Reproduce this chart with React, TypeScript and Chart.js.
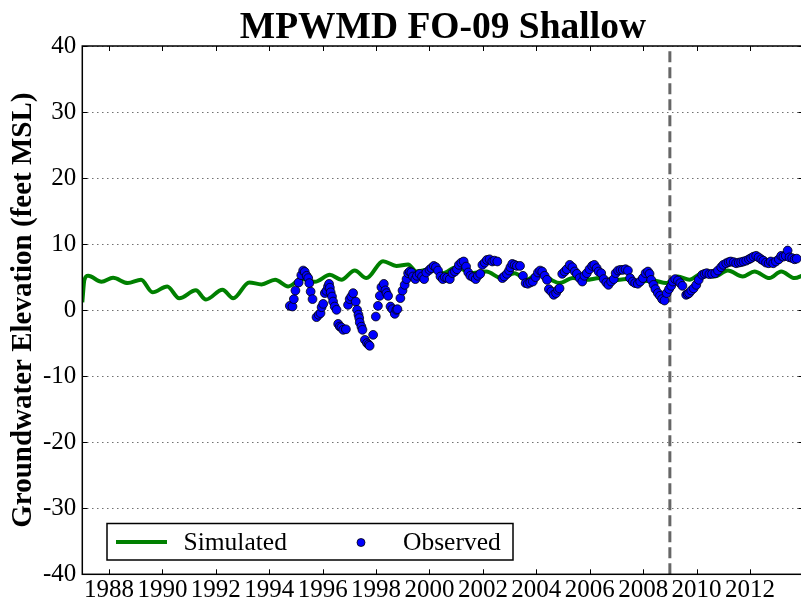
import React, { useEffect, useRef } from "react";
import { Chart, registerables } from "chart.js";

Chart.register(...registerables);

const TITLE = "MPWMD FO-09 Shallow";
const Y_LABEL = "Groundwater Elevation (feet MSL)";
const LEGEND_LABELS = ["Simulated", "Observed"];

const X_MIN = 1987;
const X_MAX = 2014;
const Y_MIN = -40;
const Y_MAX = 40;
const X_TICK_YEARS = [1988, 1990, 1992, 1994, 1996, 1998, 2000, 2002, 2004, 2006, 2008, 2010, 2012];
const Y_TICKS = [-40, -30, -20, -10, 0, 10, 20, 30, 40];

const calibrationYears = [2009, 2009];
const calibrationValues = [-40, 40];

const simYears = [
  1987.0, 1987.08, 1987.22, 1987.72, 1988.15, 1988.7, 1989.2, 1989.63, 1990.18, 1990.63,
  1991.25, 1991.63, 1992.25, 1992.65, 1993.25, 1993.71, 1994.22, 1994.71, 1995.21, 1995.71,
  1996.27, 1996.7, 1997.2, 1997.64, 1998.26, 1998.76, 1999.2, 1999.51, 2000.0, 2000.5,
  2001.0, 2001.6, 2002.13, 2002.69, 2003.19, 2003.63, 2004.12, 2004.6, 2004.87, 2005.37,
  2005.87, 2006.37, 2006.87, 2007.37, 2007.86, 2008.36, 2008.86, 2009.3, 2009.73, 2010.23,
  2010.67, 2011.17, 2011.73, 2012.17, 2012.73, 2013.17, 2013.67, 2014.0,
];
const simValues = [
  1.2, 4.6, 5.2, 4.3, 4.9, 4.1, 4.6, 2.7, 3.6, 1.8,
  3.0, 1.6, 3.1, 1.8, 4.2, 3.9, 4.6, 3.6, 4.7, 4.3,
  5.35, 4.6, 6.0, 4.85, 7.4, 6.7, 6.9, 5.85, 6.2, 5.6,
  6.5, 5.6, 5.85, 4.85, 5.6, 4.6, 5.7, 4.5, 4.1, 4.85,
  4.6, 4.85, 4.5, 4.7, 4.3, 4.5, 4.1, 5.1, 4.6, 5.6,
  5.1, 6.0, 5.1, 5.85, 4.85, 5.85, 4.85, 5.3,
];

const obsYears = [
  1994.77, 1994.87, 1994.92, 1994.98, 1995.1, 1995.2, 1995.27, 1995.33, 1995.4, 1995.46,
  1995.5, 1995.55, 1995.62, 1995.77, 1995.85, 1995.92, 1995.96, 1996.02, 1996.08, 1996.14,
  1996.2, 1996.24, 1996.27, 1996.3, 1996.35, 1996.39, 1996.45, 1996.52, 1996.58, 1996.64,
  1996.7, 1996.77, 1996.87, 1996.95, 1997.01, 1997.07, 1997.14, 1997.24, 1997.29, 1997.34,
  1997.37, 1997.39, 1997.45, 1997.49, 1997.58, 1997.66, 1997.72, 1997.76, 1997.89, 1997.99,
  1998.07, 1998.14, 1998.2, 1998.29, 1998.35, 1998.39, 1998.45, 1998.54, 1998.61, 1998.7,
  1998.76, 1998.8, 1998.91, 1998.99, 1999.07, 1999.14, 1999.2, 1999.26, 1999.32, 1999.38,
  1999.47, 1999.53, 1999.63, 1999.72, 1999.8, 1999.88, 2000.0, 2000.07, 2000.16, 2000.24,
  2000.32, 2000.41, 2000.5, 2000.57, 2000.66, 2000.76, 2000.86, 2000.95, 2001.03, 2001.1,
  2001.19, 2001.28, 2001.37, 2001.45, 2001.53, 2001.63, 2001.73, 2001.81, 2001.9, 2001.98,
  2002.07, 2002.15, 2002.25, 2002.35, 2002.43, 2002.54, 2002.73, 2002.8, 2002.9, 2002.98,
  2003.03, 2003.1, 2003.19, 2003.27, 2003.39, 2003.5, 2003.6, 2003.68, 2003.77, 2003.87,
  2003.97, 2004.06, 2004.14, 2004.22, 2004.31, 2004.4, 2004.47, 2004.56, 2004.65, 2004.74,
  2004.81, 2004.87, 2004.97, 2005.06, 2005.14, 2005.25, 2005.35, 2005.44, 2005.52, 2005.62,
  2005.72, 2005.8, 2005.89, 2005.99, 2006.09, 2006.17, 2006.26, 2006.33, 2006.43, 2006.52,
  2006.62, 2006.7, 2006.8, 2006.9, 2006.97, 2007.06, 2007.15, 2007.24, 2007.34, 2007.43,
  2007.51, 2007.61, 2007.7, 2007.8, 2007.89, 2007.99, 2008.09, 2008.18, 2008.24, 2008.3,
  2008.39, 2008.46, 2008.55, 2008.63, 2008.71, 2008.8, 2008.88, 2008.97, 2009.05, 2009.11,
  2009.2, 2009.3, 2009.39, 2009.47, 2009.61, 2009.67, 2009.72, 2009.8, 2009.89, 2009.99,
  2010.08, 2010.21, 2010.3, 2010.38, 2010.48, 2010.58, 2010.7, 2010.8, 2010.92, 2011.0,
  2011.11, 2011.2, 2011.28, 2011.39, 2011.48, 2011.58, 2011.67, 2011.76, 2011.86, 2011.96,
  2012.04, 2012.13, 2012.23, 2012.32, 2012.42, 2012.5, 2012.6, 2012.7, 2012.78, 2012.87,
  2012.97, 2013.08, 2013.17, 2013.25, 2013.34, 2013.41, 2013.48, 2013.58, 2013.67, 2013.75,
];
const obsValues = [
  0.65, 0.55, 1.67, 2.97, 4.18, 5.3, 6.0, 5.8, 5.2, 4.85,
  4.09, 2.82, 1.67, -1.06, -0.7, -0.45, 0.45, 0.95, 2.58, 2.92,
  3.58, 3.98, 3.4, 2.7, 2.06, 1.3, 0.55, 0.05, -2.08, -2.48,
  -2.6, -2.98, -2.9, 0.8, 1.67, 2.06, 2.58, 1.3, 0.05, -0.7,
  -1.2, -1.87, -2.5, -2.98, -4.5, -5.0, -5.2, -5.4, -3.74, -0.97,
  0.65, 2.17, 3.48, 3.98, 3.0, 2.58, 2.17, 0.55, 0.15, -0.56,
  0.05, 0.15, 1.82, 2.97, 3.83, 4.7, 5.6, 5.85, 5.7, 5.1,
  4.7, 5.2, 5.5, 5.1, 4.7, 5.7, 6.1, 6.36, 6.7, 6.5,
  6.0, 5.1, 4.7, 5.0, 4.9, 4.7, 5.6, 5.85, 6.2, 6.86,
  7.2, 7.37, 6.6, 5.7, 5.2, 5.0, 4.7, 5.2, 5.5, 6.86,
  7.2, 7.6, 7.7, 7.37, 7.5, 7.37, 4.85, 5.1, 5.5, 6.0,
  6.5, 7.0, 6.86, 6.7, 6.7, 5.2, 4.09, 4.0, 4.18, 4.33,
  5.0, 5.7, 6.0, 5.85, 5.2, 4.59, 3.18, 2.82, 2.32, 2.58,
  3.08, 3.3, 5.5, 5.85, 6.2, 6.86, 6.5, 5.85, 5.5, 4.85,
  4.33, 5.2, 5.6, 6.2, 6.7, 6.86, 6.36, 5.85, 5.6, 4.7,
  4.18, 3.83, 4.33, 4.7, 5.6, 6.0, 6.1, 6.1, 6.2, 6.0,
  4.85, 4.33, 4.09, 4.0, 4.33, 4.85, 5.6, 5.85, 5.5, 4.59,
  3.83, 3.18, 2.58, 2.17, 1.67, 1.46, 2.58, 3.2, 3.68, 4.33,
  4.7, 4.48, 4.09, 3.68, 2.32, 2.45, 2.58, 2.97, 3.3, 3.83,
  4.59, 5.35, 5.5, 5.6, 5.45, 5.5, 5.6, 6.0, 6.5, 6.86,
  7.1, 7.27, 7.37, 7.27, 7.1, 7.2, 7.27, 7.37, 7.5, 7.7,
  7.88, 8.1, 8.23, 8.0, 7.7, 7.5, 7.2, 7.1, 7.37, 7.1,
  7.37, 7.7, 8.23, 8.1, 8.23, 9.03, 8.0, 7.88, 7.7, 7.8,
];

const FONT = '"Liberation Serif", "Times New Roman", serif';
const SIM_COLOR = "#008000";
const OBS_COLOR = "#0000ff";

const CANVAS_W = 830;
const CANVAS_H = 604;
const AREA_LEFT = 82.3;
const AREA_TOP = 46;
const AREA_RIGHT = 803.4;
const AREA_BOTTOM = 574.3;

const framePlugin = {
  id: "frameTicks",
  afterDatasetsDraw(chart: any) {
    const { ctx, chartArea: a, scales } = chart;
    ctx.save();
    ctx.strokeStyle = "#000";
    ctx.lineWidth = 1;
    ctx.beginPath();
    X_TICK_YEARS.forEach((v) => {
      const px = Math.round(scales.x.getPixelForValue(v)) + 0.5;
      ctx.moveTo(px, a.bottom);
      ctx.lineTo(px, a.bottom - 5);
      ctx.moveTo(px, a.top);
      ctx.lineTo(px, a.top + 5);
    });
    Y_TICKS.forEach((v) => {
      const py = Math.round(scales.y.getPixelForValue(v)) + 0.5;
      ctx.moveTo(a.left, py);
      ctx.lineTo(a.left + 5, py);
      ctx.moveTo(a.right, py);
      ctx.lineTo(a.right - 5, py);
    });
    ctx.stroke();
    ctx.lineWidth = 1.5;
    ctx.strokeRect(a.left, a.top, a.right - a.left, a.bottom - a.top);
    ctx.restore();
  },
};

const titleLegendPlugin = {
  id: "titleLegend",
  afterDraw(chart: any) {
    const { ctx, chartArea: a } = chart;
    ctx.save();
    // title
    ctx.fillStyle = "#000";
    ctx.font = `bold 37.5px ${FONT}`;
    ctx.textAlign = "center";
    ctx.textBaseline = "alphabetic";
    ctx.fillText(TITLE, (a.left + a.right) / 2, 37.5);

    // legend box
    const bx = a.left + 24.7;
    const by = a.bottom - 50.8;
    const bw = 406;
    const bh = 36.5;
    ctx.fillStyle = "#fff";
    ctx.fillRect(bx, by, bw, bh);
    ctx.strokeStyle = "#000";
    ctx.lineWidth = 1.5;
    ctx.strokeRect(bx, by, bw, bh);
    const cy = by + 18.5;
    ctx.strokeStyle = SIM_COLOR;
    ctx.lineWidth = 4;
    ctx.beginPath();
    ctx.moveTo(bx + 9, cy);
    ctx.lineTo(bx + 60, cy);
    ctx.stroke();
    ctx.fillStyle = "#000";
    ctx.font = `25.5px ${FONT}`;
    ctx.textAlign = "left";
    ctx.textBaseline = "alphabetic";
    ctx.fillText(LEGEND_LABELS[0], bx + 76.5, by + 26.5);
    ctx.beginPath();
    ctx.arc(bx + 254, cy + 0.5, 4, 0, Math.PI * 2);
    ctx.fillStyle = OBS_COLOR;
    ctx.fill();
    ctx.lineWidth = 0.8;
    ctx.strokeStyle = "#000";
    ctx.stroke();
    ctx.fillStyle = "#000";
    ctx.fillText(LEGEND_LABELS[1], bx + 296, by + 26.5);
    ctx.restore();
  },
};

export default function App() {
  const canvasRef = useRef<HTMLCanvasElement | null>(null);

  useEffect(() => {
    if (!canvasRef.current) return;
    const chart = new Chart(canvasRef.current, {
      type: "scatter",
      data: {
        datasets: [
          {
            label: LEGEND_LABELS[1],
            data: obsYears.map((x, i) => ({ x, y: obsValues[i] })),
            showLine: false,
            pointRadius: 4.4,
            pointHoverRadius: 4.4,
            pointBackgroundColor: OBS_COLOR,
            pointBorderColor: "#000",
            pointBorderWidth: 0.8,
            order: 0,
          },
          {
            label: "Calibration",
            data: calibrationYears.map((x, i) => ({ x, y: calibrationValues[i] })),
            showLine: true,
            borderColor: "#666666",
            borderWidth: 3,
            borderDash: [11, 5],
            pointRadius: 0,
            order: 1,
          },
          {
            label: LEGEND_LABELS[0],
            data: simYears.map((x, i) => ({ x, y: simValues[i] })),
            showLine: true,
            borderColor: SIM_COLOR,
            borderWidth: 4,
            pointRadius: 0,
            cubicInterpolationMode: "monotone",
            order: 2,
          },
        ],
      },
      options: {
        animation: false,
        responsive: false,
        devicePixelRatio: 1,
        layout: {
          padding: { left: 0, top: AREA_TOP, right: CANVAS_W - AREA_RIGHT, bottom: 0 },
        },
        plugins: {
          legend: { display: false },
          title: { display: false },
          tooltip: { enabled: false },
        },
        scales: {
          x: {
            type: "linear",
            min: X_MIN,
            max: X_MAX,
            grid: { display: false, drawTicks: false },
            border: { display: false },
            afterBuildTicks: (scale: any) => {
              scale.ticks = X_TICK_YEARS.map((v) => ({ value: v }));
            },
            afterFit: (scale: any) => {
              scale.height = CANVAS_H - AREA_BOTTOM;
            },
            ticks: {
              autoSkip: false,
              maxRotation: 0,
              padding: 1,
              color: "#000",
              font: { family: FONT, size: 25 },
              callback: (v: any) => String(v),
            },
          },
          y: {
            type: "linear",
            min: Y_MIN,
            max: Y_MAX,
            grid: { color: "#707070", lineWidth: 1, drawTicks: false },
            border: { display: false, dash: [1.5, 3.5] },
            afterBuildTicks: (scale: any) => {
              scale.ticks = Y_TICKS.map((v) => ({ value: v }));
            },
            afterFit: (scale: any) => {
              scale.width = AREA_LEFT;
            },
            ticks: {
              padding: 6,
              color: "#000",
              font: { family: FONT, size: 25 },
              callback: (v: any) => String(v),
            },
            title: {
              display: true,
              text: Y_LABEL,
              color: "#000",
              font: { family: FONT, size: 29, weight: "bold" },
              padding: { top: 6, bottom: 0 },
            },
          },
        },
      },
      plugins: [framePlugin, titleLegendPlugin],
    } as any);
    return () => chart.destroy();
  }, []);

  return (
    <div
      style={{
        position: "fixed",
        left: 0,
        top: 0,
        width: 801,
        height: 604,
        overflow: "hidden",
        background: "#fff",
      }}
    >
      <canvas ref={canvasRef} width={CANVAS_W} height={CANVAS_H} style={{ display: "block" }} />
    </div>
  );
}
